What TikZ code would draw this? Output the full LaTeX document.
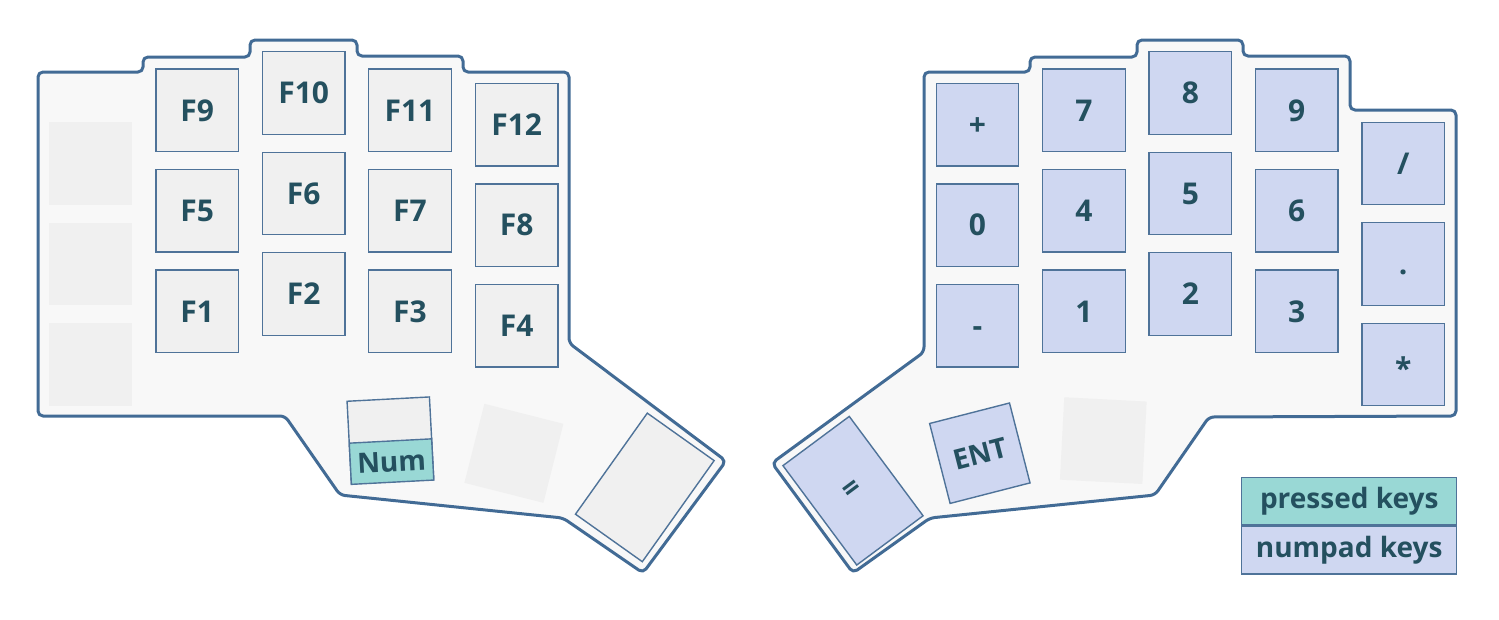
\documentclass[tikz,border=0pt]{standalone}
\usepackage{fontspec}
\setmainfont{Open Sans}
\definecolor{outl}{HTML}{426B95}
\definecolor{kbord}{HTML}{4F7399}
\definecolor{halff}{HTML}{F8F8F8}
\definecolor{keyf}{HTML}{F0F0F0}
\definecolor{nump}{HTML}{CFD7F1}
\definecolor{press}{HTML}{99D8D5}
\definecolor{txt}{HTML}{24505F}
\begin{document}
\begin{tikzpicture}[x=1pt,y=-1pt,
  keybase/.style={rectangle, minimum width=82.5, minimum height=82.5, inner sep=0pt,
    font=\fontsize{30}{36}\selectfont\bfseries, text=txt, text height=21.4pt, text depth=0pt},
  fkey/.style={keybase, fill=keyf, draw=kbord, line width=1.4},
  blankkey/.style={keybase, fill=keyf},
  npkey/.style={keybase, fill=nump, draw=kbord, line width=1.4},
  thumbtxt/.style={font=\fontsize{28}{34}\selectfont\bfseries, text=txt},
  halfshape/.style={draw=outl, fill=halff, line width=3, rounded corners=5, line join=round},
  legendbox/.style={rectangle, minimum width=215, minimum height=47.7, inner sep=0pt,
    draw=kbord, line width=1.2, font=\fontsize{28}{34}\selectfont\bfseries, text=txt}
]
\useasboundingbox (0,0) rectangle (1499,619);

% ---------- left half outline
\draw[halfshape] (38,72) -- (143,72) -- (143,57) -- (250,57) -- (250,40) -- (357,40)
  -- (357,56) -- (463,56) -- (463,72) -- (569,72) -- (569,343) -- (726,461)
  -- (643,573) -- (563,518) -- (340,495) -- (285,416) -- (38,416) -- cycle;

% ---------- right half outline
\draw[halfshape] (924,72) -- (1030,72) -- (1030,57) -- (1137,57) -- (1137,40) -- (1243,40)
  -- (1243,56) -- (1350,56) -- (1350,110) -- (1456,110) -- (1456,416) -- (1209,417)
  -- (1155,495) -- (930,518) -- (853,573) -- (772,463) -- (924,352) -- cycle;

% ---------- left keys
\node[blankkey] (l00) at (90.7,163.5) {};
\node[blankkey] (l01) at (90.7,264) {};
\node[blankkey] (l02) at (90.7,364.5) {};

\node[fkey] (f9) at (197.2,110.3) {F9};
\node[fkey] (f5) at (197.2,210.8) {F5};
\node[fkey] (f1) at (197.2,311.3) {F1};

\node[fkey] (f10) at (303.7,93) {F10};
\node[fkey] (f6) at (303.7,193.5) {F6};
\node[fkey] (f2) at (303.7,294) {F2};

\node[fkey] (f11) at (410,110.3) {F11};
\node[fkey] (f7) at (410,210.8) {F7};
\node[fkey] (f3) at (410,311.3) {F3};

\node[fkey] (f12) at (516.7,124.6) {F12};
\node[fkey] (f8) at (516.7,225.1) {F8};
\node[fkey] (f4) at (516.7,325.6) {F4};

% left thumb keys
\begin{scope}[shift={(390.4,440.3)}, rotate=3, transform shape]
  \node[fkey] (numkey) at (0,0) {};
  \node[rectangle, minimum width=82.5, minimum height=41.25, inner sep=0pt, anchor=north,
        fill=press, draw=kbord, line width=1.4, thumbtxt] (numlow) at (0,0) {Num};
\end{scope}
\node[blankkey, minimum width=81.5, minimum height=81.5, rotate=-14.2] (lt2) at (513.9,453.3) {};
\node[fkey, minimum width=82, minimum height=124, rotate=-35.4] (lt3) at (644.8,487.4) {};

% ---------- right keys
\node[npkey] (kplus) at (977.5,124.6) {+};
\node[npkey] (k0) at (977.5,225.1) {0};
\node[npkey] (kminus) at (977.5,325.6) {-};

\node[npkey] (k7) at (1084,110.3) {7};
\node[npkey] (k4) at (1084,210.8) {4};
\node[npkey] (k1) at (1084,311.3) {1};

\node[npkey] (k8) at (1190.4,93) {8};
\node[npkey] (k5) at (1190.4,193.5) {5};
\node[npkey] (k2) at (1190.4,294) {2};

\node[npkey] (k9) at (1296.7,110.3) {9};
\node[npkey] (k6) at (1296.7,210.8) {6};
\node[npkey] (k3) at (1296.7,311.3) {3};

\node[npkey] (kslash) at (1403.2,163.5) {/};
\node[npkey] (kdot) at (1403.2,264) {.};
\node[npkey, text height=30pt] (kstar) at (1403.2,364.5) {*};

% right thumb keys
\node[npkey, minimum width=82.6, minimum height=123.8, rotate=36.6, text height=, text depth=] (keq) at (853,490.7) {=};
\node[npkey, rotate=14.4, thumbtxt] (kent) at (979.8,453.2) {ENT};
\node[blankkey, rotate=-3] (rt3) at (1103.3,440.6) {};

% ---------- legend
\node[legendbox, fill=press] (lgpress) at (1349.2,501.2) {pressed keys};
\node[legendbox, fill=nump, anchor=north] (lgnum) at (lgpress.south) {numpad keys};
\end{tikzpicture}
\end{document}
